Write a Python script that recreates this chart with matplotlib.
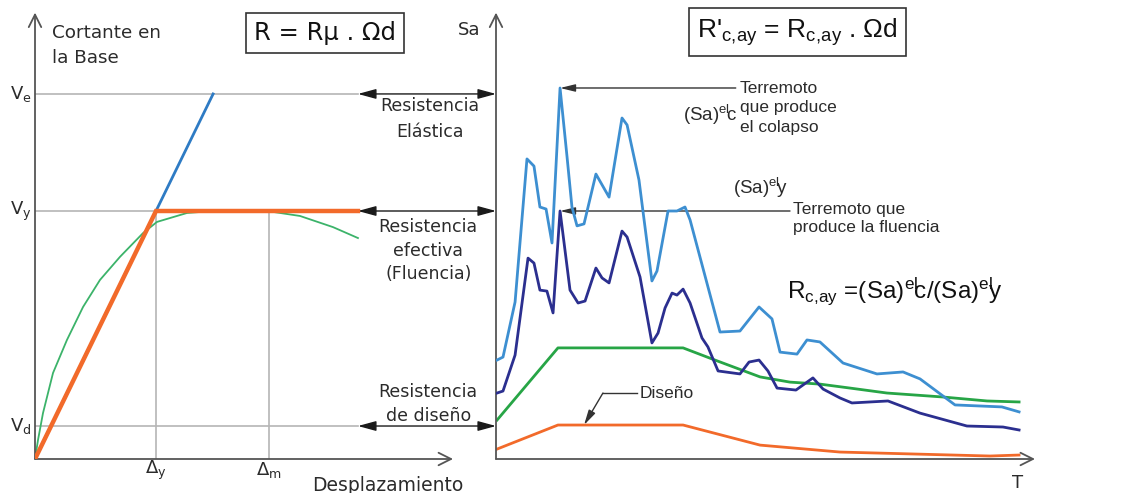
import matplotlib
matplotlib.use("Agg")
import matplotlib.pyplot as plt
from matplotlib import font_manager

# --- pushover curve (displacement normalised by yield drift, shear by yield strength)
V_e = 1.472
V_y = 1.0
V_d = 0.133
delta_y = 1.0
delta_m = 1.934
d_end = 2.669          # where the plateau meets the strength arrows

capacity_d = [0, 0.025, 0.066, 0.149, 0.264, 0.397, 0.537, 0.702, 0.893, 1.008,
              1.256, 1.471, 1.694, 1.917, 2.190, 2.463, 2.669]
capacity_v = [0, 0.077, 0.185, 0.347, 0.480, 0.613, 0.722, 0.815, 0.911, 0.956,
              0.992, 1.0, 1.0, 1.0, 0.980, 0.935, 0.891]

# --- response spectra
T_collapse = [0.006, 0.040, 0.109, 0.177, 0.217, 0.251, 0.286, 0.320, 0.366, 0.406,
              0.434, 0.463, 0.503, 0.571, 0.646, 0.720, 0.749, 0.817, 0.891, 0.920,
              0.983, 1.034, 1.080, 1.109, 1.280, 1.394, 1.503, 1.577, 1.623, 1.720,
              1.777, 1.851, 1.983, 2.177, 2.326, 2.423, 2.623, 2.891, 2.989]
Sa_collapse = [0.399, 0.411, 0.633, 1.210, 1.181, 1.016, 1.008, 0.871, 1.496, 1.218,
               1.016, 0.940, 0.948, 1.149, 1.056, 1.375, 1.347, 1.125, 0.718, 0.758,
               1.0, 1.0, 1.016, 0.964, 0.512, 0.516, 0.613, 0.565, 0.431, 0.423,
               0.480, 0.472, 0.387, 0.343, 0.351, 0.323, 0.218, 0.210, 0.190]

T_yield = [0.006, 0.040, 0.109, 0.183, 0.217, 0.251, 0.291, 0.326, 0.366, 0.423,
           0.469, 0.509, 0.571, 0.606, 0.646, 0.720, 0.749, 0.823, 0.891, 0.926,
           0.966, 1.006, 1.034, 1.069, 1.109, 1.177, 1.211, 1.269, 1.394, 1.446,
           1.503, 1.554, 1.606, 1.714, 1.811, 1.869, 1.966, 2.034, 2.240, 2.423,
           2.691, 2.897, 2.989]
Sa_yield = [0.266, 0.274, 0.419, 0.810, 0.790, 0.681, 0.677, 0.589, 1.0, 0.681,
            0.629, 0.637, 0.770, 0.730, 0.710, 0.919, 0.895, 0.734, 0.468, 0.508,
            0.609, 0.669, 0.661, 0.685, 0.629, 0.488, 0.452, 0.355, 0.343, 0.391,
            0.399, 0.355, 0.286, 0.278, 0.327, 0.282, 0.246, 0.226, 0.234, 0.185,
            0.133, 0.129, 0.117]

T_elastic = [0.006, 0.354, 1.069, 1.251, 1.509, 1.680, 1.851, 2.023, 2.234, 2.554, 2.806, 2.989]
Sa_elastic = [0.157, 0.448, 0.448, 0.399, 0.331, 0.310, 0.302, 0.286, 0.266, 0.250, 0.234, 0.230]

T_design = [0.006, 0.354, 1.069, 1.509, 1.966, 2.823, 2.989]
Sa_design = [0.040, 0.137, 0.137, 0.056, 0.028, 0.012, 0.016]

installed = {f.name for f in font_manager.fontManager.ttflist}
narrow = "Liberation Sans Narrow" if "Liberation Sans Narrow" in installed else "Liberation Sans"

plt.rcParams["font.family"] = ["DejaVu Sans"]
plt.rcParams["mathtext.default"] = "regular"

AX = "#555555"
GRID = "#b5b5b5"
TXT = "#2b2b2b"

fig = plt.figure(figsize=(11.21, 4.93), dpi=100)
ax = fig.add_axes([35 / 1121, 34 / 493, 461 / 1121, 459 / 493])
ax2 = fig.add_axes([496 / 1121, 34 / 493, 625 / 1121, 459 / 493])
ax.set_xlim(0, 461 / 121)
ax.set_ylim(0, 459 / 248)
ax2.set_xlim(0, 625 / 175)
ax2.set_ylim(0, 459 / 248)
for a in (ax, ax2):
    a.axis("off")

open_head = dict(arrowstyle="->,head_length=0.9,head_width=0.45", color=AX, lw=1.3,
                 shrinkA=0, shrinkB=0)
solid_both = dict(arrowstyle="<|-|>,head_length=1.1,head_width=0.3", color="#1a1a1a", lw=1.0,
                  shrinkA=0, shrinkB=0)
solid_one = dict(arrowstyle="-|>,head_length=0.9,head_width=0.22", color="#333333", lw=1.0,
                 shrinkA=0, shrinkB=0)

# ---------------- left panel: base shear vs displacement
for lvl in (V_e, V_y, V_d):
    ax.plot([0, d_end], [lvl, lvl], color=GRID, lw=1.2, zorder=1)
    ax.annotate("", xy=(461 / 121, lvl), xytext=(d_end, lvl), arrowprops=solid_both,
                annotation_clip=False)
for dx in (delta_y, delta_m):
    ax.plot([dx, dx], [0, V_y], color=GRID, lw=1.2, zorder=1)

ax.plot([0, V_e / V_y * delta_y], [0, V_e], color="#2e7bc4", lw=2.0, zorder=3)
ax.plot(capacity_d, capacity_v, color="#3cb36a", lw=1.3, zorder=3)
ax.plot([0, delta_y, d_end], [0, V_y, V_y], color="#f26a2a", lw=3.2, zorder=4,
        solid_joinstyle="miter")

ax.annotate("", xy=(0, 1.80), xytext=(0, 0), arrowprops=open_head, annotation_clip=False)
ax.annotate("", xy=(3.455, 0), xytext=(0, 0), arrowprops=open_head, annotation_clip=False)

ax.text(0.14, 1.755, "Cortante en\nla Base", ha="left", va="top", fontsize=13.2,
        color=TXT, linespacing=1.55)
ax.text(2.393, 1.716, "R = Rμ . Ωd", ha="center", va="center", fontsize=17.5, color="#111111",
        bbox=dict(boxstyle="square,pad=0.33", fc="white", ec="#333333", lw=1.2))
ax.text(-0.03, V_e, "$V_e$", ha="right", va="center", fontsize=13, color=TXT)
ax.text(-0.03, V_y, "$V_y$", ha="right", va="center", fontsize=13, color=TXT)
ax.text(-0.03, V_d, "$V_d$", ha="right", va="center", fontsize=13, color=TXT)
ax.text(delta_y, -0.045, r"$\Delta_y$", ha="center", va="center", fontsize=13, color=TXT)
ax.text(delta_m, -0.045, r"$\Delta_m$", ha="center", va="center", fontsize=13, color=TXT)
ax.text(2.917, -0.107, "Desplazamiento", ha="center", va="center", fontsize=13.5, color=TXT)

ax.text(3.264, 1.458, "Resistencia\nElástica", ha="center", va="top", fontsize=12.5,
        color=TXT, linespacing=1.55)
ax.text(3.25, 0.973, "Resistencia\nefectiva\n(Fluencia)", ha="center", va="top",
        fontsize=12.5, color=TXT, linespacing=1.42)
ax.text(3.25, 0.305, "Resistencia\nde diseño", ha="center", va="top", fontsize=12.5,
        color=TXT, linespacing=1.4)

# ---------------- right panel: spectra
ax2.plot(T_elastic, Sa_elastic, color="#27a546", lw=2.0, zorder=3)
ax2.plot(T_design, Sa_design, color="#f26a2a", lw=2.0, zorder=3)
ax2.plot(T_yield, Sa_yield, color="#2b2f8f", lw=2.0, zorder=4)
ax2.plot(T_collapse, Sa_collapse, color="#3d8fd1", lw=2.0, zorder=5)

ax2.annotate("", xy=(0, 1.80), xytext=(0, 0), arrowprops=open_head, annotation_clip=False)
ax2.annotate("", xy=(3.08, 0), xytext=(0, 0), arrowprops=open_head, annotation_clip=False)
ax2.text(-0.154, 1.73, "Sa", ha="center", va="center", fontsize=13, color=TXT)
ax2.text(2.983, -0.097, "T", ha="center", va="center", fontsize=13, color=TXT)

ax2.text(1.723, 1.722, r"R'$_{c,\!ay}$ = R$_{c,\!ay}$ . Ωd", ha="center", va="center",
         fontsize=19, color="#111111", family=narrow,
         bbox=dict(boxstyle="square,pad=0.3", fc="white", ec="#333333", lw=1.2))

peak_c = max(Sa_collapse)
T_c = T_collapse[Sa_collapse.index(peak_c)]
ax2.annotate("", xy=(T_c, peak_c), xytext=(1.37, peak_c), arrowprops=solid_one)
ax2.text(1.394, peak_c + 0.03, "Terremoto\nque produce\nel colapso", ha="left", va="top",
         fontsize=12.5, color=TXT, family=narrow, linespacing=1.38)
ax2.text(1.069, 1.387, r"(Sa)$^{el}\!c$", ha="left", va="center", fontsize=13.5,
         color=TXT, family=narrow)

peak_y = max(Sa_yield)
T_y = T_yield[Sa_yield.index(peak_y)]
ax2.annotate("", xy=(T_y, peak_y), xytext=(1.68, peak_y), arrowprops=solid_one)
ax2.text(1.354, 1.093, r"(Sa)$^{el}\!y$", ha="left", va="center", fontsize=13.5,
         color=TXT, family=narrow)
ax2.text(1.697, peak_y + 0.035, "Terremoto que\nproduce la fluencia", ha="left", va="top",
         fontsize=12.5, color=TXT, family=narrow, linespacing=1.2)

ax2.text(1.663, 0.677, r"R$_{c,\!ay}$ =(Sa)$^{el}\!c$/(Sa)$^{el}\!y$", ha="left",
         va="center", fontsize=17.5, color="#111111", family=narrow)

# leader for the design spectrum
ax2.plot([0.806, 0.611], [0.266, 0.266], color="#333333", lw=1.0)
ax2.annotate("", xy=(0.503, Sa_design[1]), xytext=(0.611, 0.266), arrowprops=solid_one)
ax2.text(0.823, 0.266, "Diseño", ha="left", va="center", fontsize=12.5, color=TXT,
         family=narrow)

fig.savefig("out.png", dpi=100)
